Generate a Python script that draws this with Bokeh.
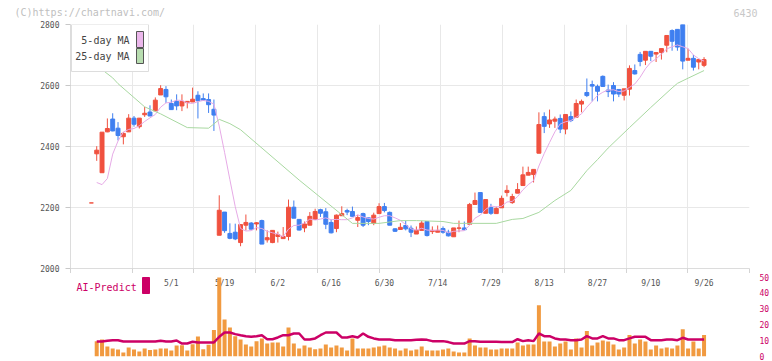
import numpy as np
from bokeh.plotting import figure
from bokeh.models import (ColumnDataSource, Range1d, FixedTicker, Label,
                          BoxAnnotation)
from bokeh.layouts import column
from bokeh.core.properties import value
from bokeh.embed import file_html
from bokeh.resources import INLINE

# ---------------- data (trading days 2025-04-09 .. 2025-09-26) ----------------
open_ = [2215, 2376, 2314, 2448, 2490, 2460, 2432, 2448, 2493, 2465,
         2504, 2513, 2517, 2569, 2587, 2541, 2548, 2533, 2544, 2546,
         2568, 2557, 2554, 2522, 2109, 2185, 2115, 2119, 2085, 2142,
         2149, 2146, 2157, 2094, 2085, 2105, 2098, 2105, 2201, 2161,
         2133, 2142, 2161, 2193, 2186, 2151, 2131, 2173, 2190, 2187,
         2158, 2180, 2166, 2148, 2180, 2203, 2184, 2130, 2128, 2141,
         2132, 2113, 2125, 2154, 2121, 2119, 2131, 2119, 2104, 2132,
         2133, 2145, 2210, 2249, 2181, 2200, 2180, 2199, 2249, 2216,
         2247, 2272, 2306, 2308, 2378, 2498, 2474, 2483, 2492, 2457,
         2498, 2496, 2539, 2577, 2603, 2597, 2630, 2585, 2600, 2587,
         2568, 2588, 2649, 2702, 2683, 2712, 2703, 2708, 2732, 2780,
         2784, 2800, 2683, 2689, 2677, 2666]
high = [2215, 2401, 2447, 2492, 2509, 2480, 2448, 2506, 2500, 2493,
        2530, 2535, 2561, 2601, 2598, 2554, 2571, 2571, 2548, 2593,
        2581, 2574, 2574, 2554, 2240, 2185, 2148, 2147, 2144, 2177,
        2152, 2152, 2160, 2125, 2125, 2121, 2136, 2226, 2223, 2161,
        2154, 2185, 2196, 2196, 2198, 2161, 2177, 2204, 2196, 2203,
        2176, 2183, 2166, 2183, 2214, 2215, 2187, 2132, 2149, 2156,
        2141, 2138, 2156, 2154, 2138, 2141, 2138, 2127, 2133, 2157,
        2154, 2215, 2249, 2249, 2226, 2212, 2203, 2239, 2273, 2245,
        2280, 2334, 2334, 2325, 2512, 2512, 2521, 2498, 2505, 2505,
        2515, 2554, 2554, 2623, 2616, 2603, 2633, 2603, 2611, 2587,
        2589, 2666, 2669, 2710, 2712, 2712, 2708, 2721, 2764, 2784,
        2784, 2800, 2721, 2700, 2685, 2693]
low = [2215, 2353, 2314, 2447, 2450, 2420, 2407, 2448, 2465, 2459,
       2497, 2500, 2517, 2569, 2543, 2521, 2519, 2516, 2525, 2546,
       2492, 2550, 2510, 2451, 2109, 2117, 2096, 2093, 2073, 2125,
       2129, 2125, 2080, 2085, 2083, 2085, 2098, 2092, 2165, 2125,
       2119, 2142, 2161, 2169, 2129, 2115, 2119, 2173, 2175, 2171,
       2136, 2136, 2142, 2142, 2180, 2184, 2142, 2120, 2128, 2125,
       2103, 2113, 2125, 2105, 2113, 2119, 2114, 2105, 2104, 2119,
       2125, 2145, 2210, 2184, 2181, 2176, 2180, 2199, 2236, 2212,
       2247, 2272, 2306, 2282, 2378, 2444, 2461, 2461, 2444, 2440,
       2480, 2496, 2512, 2562, 2548, 2548, 2595, 2562, 2548, 2562,
       2551, 2567, 2636, 2663, 2667, 2680, 2677, 2685, 2709, 2714,
       2714, 2653, 2683, 2649, 2653, 2660]
close = [2215, 2388, 2447, 2459, 2451, 2436, 2443, 2493, 2473, 2493,
         2509, 2500, 2552, 2590, 2563, 2521, 2533, 2548, 2548, 2555,
         2550, 2552, 2537, 2503, 2191, 2124, 2099, 2097, 2144, 2151,
         2129, 2150, 2080, 2101, 2125, 2111, 2105, 2201, 2165, 2126,
         2146, 2171, 2187, 2181, 2145, 2117, 2175, 2180, 2185, 2171,
         2167, 2142, 2154, 2175, 2203, 2190, 2142, 2122, 2135, 2130,
         2119, 2125, 2149, 2108, 2125, 2125, 2119, 2107, 2133, 2133,
         2127, 2210, 2223, 2184, 2226, 2181, 2197, 2230, 2256, 2236,
         2259, 2307, 2315, 2325, 2472, 2466, 2487, 2490, 2457, 2505,
         2485, 2541, 2548, 2567, 2598, 2581, 2597, 2580, 2572, 2572,
         2589, 2656, 2638, 2679, 2712, 2696, 2708, 2721, 2764, 2745,
         2726, 2680, 2689, 2660, 2685, 2685]

# 5-day moving average (days 1..115)
ma5 = [2282, 2275, 2295, 2375, 2418, 2447, 2456, 2459, 2468, 2482,
       2494, 2505, 2529, 2543, 2545, 2552, 2551, 2543, 2541, 2547,
       2551, 2548, 2539, 2467, 2381, 2291, 2203, 2131, 2123, 2124,
       2134, 2131, 2122, 2117, 2113, 2104, 2129, 2141, 2142, 2149,
       2162, 2159, 2162, 2166, 2160, 2161, 2160, 2160, 2166, 2176,
       2169, 2164, 2162, 2168, 2173, 2173, 2166, 2158, 2144, 2130,
       2126, 2132, 2126, 2125, 2126, 2125, 2117, 2122, 2123, 2124,
       2142, 2165, 2175, 2194, 2205, 2202, 2204, 2218, 2220, 2236,
       2258, 2275, 2288, 2336, 2377, 2413, 2448, 2474, 2481, 2485,
       2496, 2507, 2529, 2548, 2567, 2578, 2585, 2586, 2580, 2582,
       2594, 2605, 2627, 2655, 2676, 2687, 2703, 2720, 2727, 2733,
       2727, 2721, 2700, 2688, 2680]

# 25-day moving average, read at these days
ma25_day = [1, 2, 4, 5, 10, 13, 18, 22, 23, 24, 26, 28, 39, 49, 54, 58,
            61, 66, 68, 76, 79, 81, 84, 87, 90, 93, 95, 97, 101, 105, 109,
            110, 112, 115]
ma25 = [2672, 2652, 2625, 2606, 2530, 2507, 2462, 2460, 2474, 2489, 2475,
        2455, 2290, 2148, 2148, 2157, 2157, 2154, 2148, 2148, 2161, 2164,
        2184, 2223, 2256, 2321, 2357, 2395, 2462, 2528, 2592, 2607, 2624,
        2649]

# lower panel (days 1..115)
volume = [9.6, 10.6, 6.3, 5.0, 4.4, 2.5, 5.6, 4.4, 3.1, 5.0,
          4.0, 4.4, 5.0, 5.0, 3.8, 6.9, 7.1, 3.8, 7.7, 12.5,
          4.6, 7.3, 16.5, 49.4, 23.1, 18.1, 12.7, 10.6, 7.5, 6.3,
          9.6, 11.3, 8.1, 8.8, 8.8, 6.3, 18.1, 8.1, 5.0, 6.9,
          5.6, 4.6, 5.0, 7.5, 5.6, 6.9, 5.6, 3.8, 11.3, 5.0,
          5.0, 5.0, 5.6, 6.3, 6.9, 5.6, 5.0, 3.8, 5.0, 3.8,
          4.4, 6.3, 3.8, 3.8, 3.8, 4.4, 5.0, 3.1, 2.5, 2.5,
          11.3, 6.9, 5.6, 5.6, 4.4, 4.4, 5.0, 5.0, 5.0, 8.8,
          6.9, 7.5, 7.5, 32.0, 9.4, 9.4, 6.3, 8.1, 9.4, 4.4,
          11.2, 5.6, 16.0, 6.9, 8.8, 10.0, 9.4, 7.5, 4.4, 5.6,
          13.4, 8.1, 10.6, 9.4, 4.4, 6.9, 5.0, 5.6, 5.0, 6.9,
          17.0, 5.0, 9.4, 5.0, 13.4]
ai_predict = [9.4, 9.4, 9.8, 10.2, 10.2, 9.4, 9.4, 9.4, 9.4, 9.4,
              9.4, 9.4, 9.8, 9.4, 9.4, 10.0, 8.1, 8.1, 9.2, 8.8,
              8.8, 8.8, 8.8, 12.3, 15.0, 15.0, 14.0, 13.3, 12.7, 12.3,
              12.7, 13.3, 10.8, 10.8, 11.9, 13.3, 13.3, 14.4, 14.4, 10.6,
              10.6, 11.3, 13.3, 15.0, 15.0, 15.0, 11.9, 11.9, 12.7, 11.9,
              14.4, 12.3, 11.3, 10.6, 10.6, 10.6, 10.2, 10.2, 10.2, 10.2,
              10.4, 10.6, 10.4, 9.6, 9.6, 9.6, 9.0, 8.1, 8.1, 8.1,
              9.6, 9.6, 9.2, 9.2, 9.2, 9.2, 9.0, 9.0, 9.0, 10.8,
              9.6, 10.2, 9.6, 14.4, 12.7, 12.7, 11.3, 10.6, 10.6, 10.2,
              10.2, 10.6, 12.7, 11.3, 11.3, 12.7, 11.3, 11.3, 10.2, 10.2,
              11.3, 12.3, 12.3, 12.3, 10.2, 10.2, 10.2, 10.6, 10.6, 10.2,
              11.7, 10.6, 10.6, 10.6, 10.6]

date_day = [15, 25, 35, 45, 55, 65, 75, 85, 95, 105, 115]
date_labels = ["5/1", "5/19", "6/2", "6/16", "6/30", "7/14", "7/29",
               "8/13", "8/27", "9/10", "9/26"]
price_ticks = [2000, 2200, 2400, 2600, 2800]
ai_ticks = [0, 10, 20, 30, 40, 50]

# ---------------- styling ----------------
MONO = "DejaVu Sans Mono"
UP, DOWN = "#f0513f", "#3f7ff0"
PINK, GREEN = "#e6aae6", "#a8d8a0"
CRIMSON, ORANGE = "#cc0066", "#f19a40"
GRID = "#e8e8e8"

days = list(range(len(close)))
sub_days = list(range(1, len(close)))
x_start, x_end = -3.92, 123.53
xr = Range1d(x_start, x_end)
grid_ticks = list(np.linspace(x_start, x_end, 12))


def sbox(l, r, b, t, fill, line):
    return BoxAnnotation(left=l, right=r, bottom=b, top=t,
                         left_units="screen", right_units="screen",
                         bottom_units="screen", top_units="screen",
                         fill_color=fill, fill_alpha=1.0,
                         line_color=line, line_alpha=1.0, line_width=1)


def slabel(x, y, text, align, size, color):
    return Label(x=x, y=y, x_units="screen", y_units="screen", text=text,
                 text_align=align, text_baseline="middle", text_font=MONO,
                 text_font_size=size, text_color=color)


# ---------------- header strip ----------------
p0 = figure(width=772, height=20, x_range=Range1d(0, 1), y_range=Range1d(0, 1),
            output_backend="svg", toolbar_location=None, tools="",
            x_axis_location=None, y_axis_location=None, min_border=0,
            outline_line_color=None)
p0.frame_align = False
p0.grid.visible = False
p0.add_layout(slabel(14, 8, "(C)https://chartnavi.com/", "left", "10px",
                     "#c0c0c0"))
p0.add_layout(slabel(757, 8, "6430", "right", "10px", "#c8c8c8"))

# ---------------- main price panel ----------------
p1 = figure(width=772, height=253, x_range=xr, y_range=Range1d(2000, 2800),
            output_backend="svg", toolbar_location=None, tools="",
            min_border_left=70, min_border_right=19, min_border_top=4,
            min_border_bottom=5, outline_line_color=None)
p1.xaxis.ticker = FixedTicker(ticks=[], minor_ticks=grid_ticks)
p1.xgrid.ticker = FixedTicker(ticks=grid_ticks)
p1.xaxis.major_tick_line_color = None
p1.xaxis.minor_tick_in = 0
p1.xaxis.minor_tick_out = 5
p1.xaxis.minor_tick_line_color = "#d4d4d4"
p1.xaxis.axis_line_color = "#dcdcdc"
p1.xaxis.major_label_standoff = 0

p1.yaxis.ticker = FixedTicker(ticks=price_ticks)
p1.ygrid.ticker = FixedTicker(ticks=price_ticks)
p1.yaxis.major_label_text_font = MONO
p1.yaxis.major_label_text_font_size = "8px"
p1.yaxis.major_label_text_color = "#555555"
p1.yaxis.major_label_standoff = 6
p1.yaxis.major_tick_in = 0
p1.yaxis.major_tick_out = 5
p1.yaxis.minor_tick_line_color = None
p1.yaxis.axis_line_color = "#dcdcdc"
p1.yaxis.major_tick_line_color = "#c8c8c8"
p1.grid.grid_line_color = GRID

colors = [UP if c >= o else DOWN for o, c in zip(open_, close)]
src = ColumnDataSource(dict(
    x=days, o=open_, h=high, l=low, c=close,
    top=[max(o, c) for o, c in zip(open_, close)],
    bottom=[min(o, c) for o, c in zip(open_, close)],
    color=colors))
p1.segment(x0="x", y0="l", x1="x", y1="h", line_color="color",
           line_width=1, source=src)
p1.vbar(x="x", width=0.74, top="top", bottom="bottom", fill_color="color",
        line_color="color", line_width=1, source=src)

p1.line(sub_days, ma5, line_color=PINK, line_width=1)
p1.line(ma25_day, ma25, line_color=GREEN, line_width=1)

# legend box (screen units relative to the frame)
p1.add_layout(sbox(1, 78, 197, 244, "white", "#dddddd"))
p1.add_layout(sbox(66, 73, 221, 237, "#ebb7eb", "#555555"))
p1.add_layout(sbox(66, 73, 205, 220, "#b8ddb0", "#555555"))
p1.add_layout(slabel(59, 228, "5-day MA", "right", "10px", "#444444"))
p1.add_layout(slabel(59, 212, "25-day MA", "right", "10px", "#444444"))

# ---------------- AI-Predict panel ----------------
p2 = figure(width=772, height=88, x_range=xr, y_range=Range1d(0, 51.875),
            output_backend="svg", toolbar_location=None, tools="",
            y_axis_location="right", x_axis_location=None,
            min_border_left=70, min_border_right=19, min_border_top=0,
            min_border_bottom=5, outline_line_color=None)
p2.grid.visible = False
p2.yaxis.ticker = FixedTicker(ticks=ai_ticks)
p2.yaxis.axis_line_color = None
p2.yaxis.major_tick_line_color = None
p2.yaxis.minor_tick_line_color = None
p2.yaxis.major_label_standoff = 4
p2.yaxis.major_label_text_font = MONO
p2.yaxis.major_label_text_font_size = "8px"
p2.yaxis.major_label_text_color = CRIMSON

p2.text(x=date_day, y=45.9, text=date_labels, text_font=value(MONO),
        text_font_size=value("8px"), text_color="#555555",
        text_align="center", text_baseline="middle")
p2.vbar(x=sub_days, top=volume, width=0.75, fill_color=ORANGE,
        line_color=None)
p2.line(sub_days, ai_predict, line_color=CRIMSON, line_width=2.5)

p2.add_layout(slabel(6, 69.5, "AI-Predict", "left", "10px", CRIMSON))
p2.add_layout(sbox(72, 79, 63, 79, CRIMSON, CRIMSON))

layout = column(p0, p1, p2)
open("out.html", "w").write(file_html(layout, INLINE))
